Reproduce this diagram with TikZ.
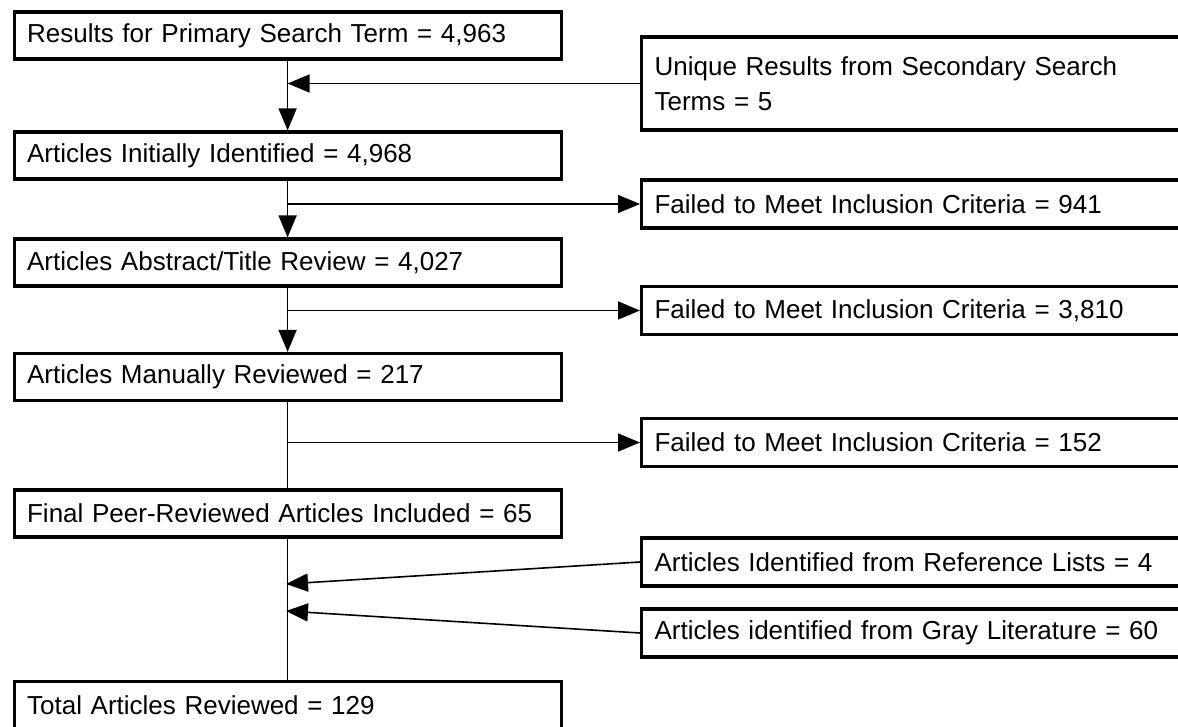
\documentclass[tikz,border=0pt]{standalone}
\usepackage{fontspec}
\setmainfont{Liberation Sans}
\usetikzlibrary{arrows.meta, positioning, calc}

\begin{document}
\begin{tikzpicture}[x=0.5pt, y=-0.5pt, font=\fontsize{13pt}{17.5pt}\selectfont,
  stagebox/.style = {draw, line width=1.6pt, anchor=west, minimum height=23.5pt, inner xsep=6.5pt, inner ysep=0pt, text width=260.5pt, align=left},
  excludebox/.style = {draw, line width=1.6pt, anchor=west, minimum height=24pt, inner xsep=6.5pt, inner ysep=0pt, text width=307pt, align=left},
  arrow/.style = {-{Triangle[length=11pt, width=9pt]}, line width=0.8pt},
  link/.style = {line width=0.8pt}
]
\useasboundingbox (0,0) rectangle (1178,727);
\clip (0,0) rectangle (1178,727);
\node[stagebox] (primary) at (12.5,35.5) {Results for Primary Search Term = 4,963};
\node[stagebox] (initial) at (12.5,155.5) {Articles Initially Identified = 4,968};
\node[stagebox] (abstract) at (12.5,262.5) {Articles Abstract/Title Review = 4,027};
\node[stagebox] (manual) at (12.5,377) {Articles Manually Reviewed = 217};
\node[stagebox] (peer) at (12.5,513.5) {Final Peer-Reviewed Articles Included = 65};
\node[stagebox] (total) at (12.5,705) {Total Articles Reviewed = 129};
\node[excludebox, minimum height=46.5pt] (secondary) at (640,83.5) {Unique Results from Secondary Search\\Terms = 5};
\node[excludebox] (fail1) at (640,204) {Failed to Meet Inclusion Criteria = 941};
\node[excludebox] (fail2) at (640,310.5) {Failed to Meet Inclusion Criteria = 3,810};
\node[excludebox] (fail3) at (640,442.5) {Failed to Meet Inclusion Criteria = 152};
\node[excludebox] (reflists) at (640,562) {Articles Identified from Reference Lists = 4};
\node[excludebox] (gray) at (640,633) {Articles identified from Gray Literature = 60};
\coordinate (refin) at (286,584);
\coordinate (grayin) at (286,611);
\draw[arrow] (primary) -- (initial);
\draw[arrow] (secondary.west) -- (secondary.west -| primary.south);
\draw[arrow] (initial) -- (abstract);
\draw[arrow] (fail1.west -| initial.south) -- (fail1.west);
\draw[arrow] (abstract) -- (manual);
\draw[arrow] (fail2.west -| abstract.south) -- (fail2.west);
\draw[link] (manual) -- (peer);
\draw[arrow] (fail3.west -| manual.south) -- (fail3.west);
\draw[link] (peer) -- (total);
\draw[arrow] (reflists.west) -- (refin);
\draw[arrow] (gray.west) -- (grayin);
\end{tikzpicture}
\end{document}
